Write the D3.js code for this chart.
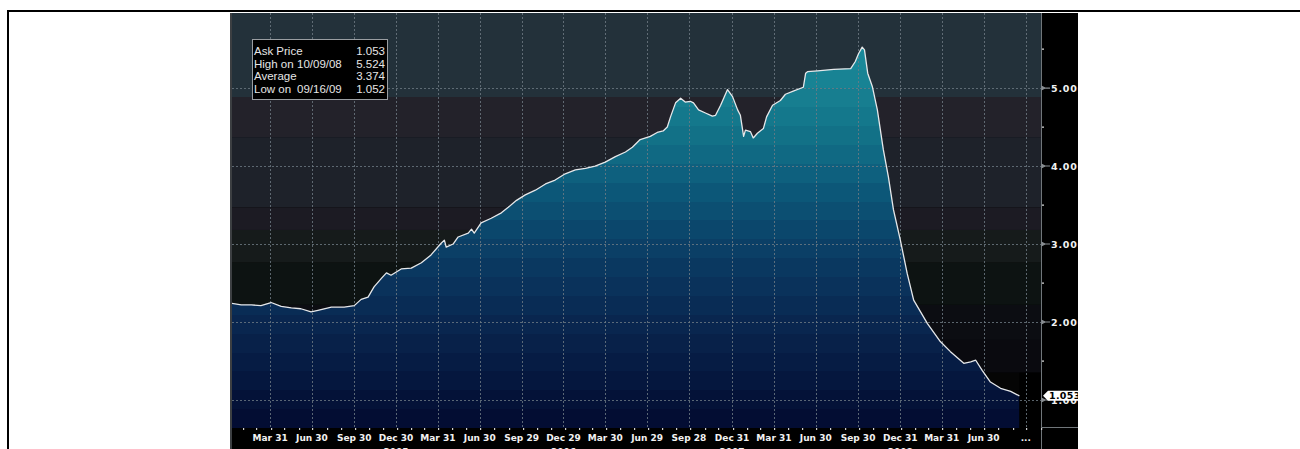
<!DOCTYPE html>
<html>
<head>
<meta charset="utf-8">
<script src="https://cdn.jsdelivr.net/npm/d3@7"></script>
<style>
  body { margin: 0; background: #fff; }
  svg { display: block; }
</style>
</head>
<body>
<div id="chart"></div>
<script>
const parse = d3.timeParse('%Y-%m-%d');

// Ask price
const dates = [
  '2005-01-05','2005-01-27','2005-02-18','2005-03-11','2005-04-02','2005-04-24','2005-05-16','2005-06-06',
  '2005-06-28','2005-07-13','2005-08-11','2005-09-08','2005-09-30','2005-10-15','2005-10-30','2005-11-12',
  '2005-11-28','2005-12-09','2005-12-19','2006-01-10','2006-02-01','2006-02-23','2006-03-16','2006-04-07',
  '2006-04-14','2006-04-18','2006-05-03','2006-05-14','2006-06-05','2006-06-12','2006-06-18','2006-07-03',
  '2006-07-25','2006-08-16','2006-08-31','2006-09-18','2006-10-07','2006-10-29','2006-11-20','2006-12-11',
  '2007-01-02','2007-01-24','2007-02-15','2007-03-08','2007-03-30','2007-04-21','2007-05-13','2007-05-28',
  '2007-06-14','2007-07-06','2007-07-21','2007-08-03','2007-08-12','2007-08-19','2007-08-30','2007-09-10',
  '2007-09-20','2007-10-01','2007-10-08','2007-10-19','2007-11-03','2007-11-18','2007-11-25','2007-12-06',
  '2007-12-21','2008-01-01','2008-01-12','2008-01-18','2008-01-25','2008-01-29','2008-02-09','2008-02-15',
  '2008-02-24','2008-03-08','2008-03-15','2008-03-28','2008-04-14','2008-04-25','2008-05-12','2008-06-03',
  '2008-06-08','2008-06-12','2008-07-04','2008-08-08','2008-09-14','2008-09-24','2008-10-01','2008-10-09',
  '2008-10-14','2008-10-21','2008-10-31','2008-11-11','2008-11-24','2008-12-05','2008-12-16','2008-12-31',
  '2009-01-15','2009-01-29','2009-02-28','2009-03-28','2009-04-19','2009-05-18','2009-06-02','2009-06-13',
  '2009-06-27','2009-07-15','2009-08-06','2009-08-28','2009-09-16'
];
const prices = [
  2.24, 2.22, 2.22, 2.21, 2.25, 2.20, 2.18, 2.17,
  2.13, 2.15, 2.19, 2.19, 2.21, 2.29, 2.32, 2.45,
  2.56, 2.63, 2.60, 2.68, 2.69, 2.76, 2.86, 3.01,
  3.05, 2.96, 3.00, 3.09, 3.14, 3.19, 3.14, 3.27,
  3.33, 3.40, 3.47, 3.56, 3.63, 3.69, 3.77, 3.82,
  3.90, 3.95, 3.97, 4.00, 4.05, 4.12, 4.18, 4.24,
  4.34, 4.38, 4.43, 4.45, 4.50, 4.63, 4.81, 4.87,
  4.82, 4.83, 4.81, 4.72, 4.68, 4.64, 4.65, 4.78,
  4.98, 4.89, 4.72, 4.65, 4.38, 4.46, 4.44, 4.36,
  4.42, 4.48, 4.63, 4.78, 4.84, 4.92, 4.96, 5.01,
  5.19, 5.21, 5.22, 5.24, 5.25, 5.34, 5.44, 5.524,
  5.49, 5.19, 5.02, 4.72, 4.21, 3.86, 3.44, 3.05,
  2.62, 2.28, 1.98, 1.75, 1.62, 1.47, 1.49, 1.51,
  1.38, 1.23, 1.15, 1.11, 1.053
];

const tickDates = [
  '2005-03-31','2005-06-30','2005-09-30','2005-12-30','2006-03-31','2006-06-30','2006-09-29','2006-12-29',
  '2007-03-30','2007-06-29','2007-09-28','2007-12-31','2008-03-31','2008-06-30','2008-09-30','2008-12-31',
  '2009-03-31','2009-06-30','2009-09-30'
];
const tickLabels = [
  'Mar 31','Jun 30','Sep 30','Dec 30','Mar 31','Jun 30','Sep 29','Dec 29',
  'Mar 30','Jun 29','Sep 28','Dec 31','Mar 31','Jun 30','Sep 30','Dec 31',
  'Mar 31','Jun 30','...'
];
const yearDates = ['2005-12-30','2006-12-29','2007-12-31','2008-12-31'];
const yearLabels = ['2005','2006','2007','2008'];

const yTicks = [1, 2, 3, 4, 5];
const yMinorTicks = [1.5, 2.5, 3.5, 4.5, 5.5];

const legendLabels = ['Ask Price', 'High on', 'Average', 'Low on'];
const legendDates = ['', '10/09/08', '', '09/16/09'];
const legendValues = ['1.053', '5.524', '3.374', '1.052'];
const lastPrice = 1.053;

// background bands behind the series, in price units (top to bottom)
const BG_BANDS = [
  { hi: 6.0,  lo: 4.885, color: '#23313a' },
  { hi: 4.885, lo: 4.37, color: '#23222a' },
  { hi: 4.37, lo: 3.47,  color: '#1e222a' },
  { hi: 3.47, lo: 3.18,  color: '#1c1b23' },
  { hi: 3.18, lo: 2.76,  color: '#161b1b' },
  { hi: 2.76, lo: 2.22,  color: '#0d1312' },
  { hi: 2.22, lo: 1.77,  color: '#0c0d12' },
  { hi: 1.77, lo: 1.35,  color: '#0a0a0f' },
  { hi: 1.35, lo: 0.6,   color: '#050505' },
];
// fill colour ramp for the area, by price level
const AREA_RAMP = [
  [5.96, '#1c95a5'], [4.9, '#177f90'], [4.3, '#116f86'], [3.6, '#0c5577'],
  [3.0, '#0b4167'], [2.4, '#0a305a'], [1.8, '#08224b'], [0.64, '#020a30']
];

const W = 1300, H = 449;
const plot = { left: 232, right: 1041, top: 13, bottom: 428 };
const chartBox = { left: 230, right: 1078, top: 13, bottom: 449 };

const data = dates.map((d, i) => ({ date: parse(d), value: prices[i] }));

const x = d3.scaleTime()
  .domain([parse('2005-01-07'), parse('2009-11-02')])
  .range([plot.left, plot.right]);
const y = d3.scaleLinear().domain([0.641, 5.962]).range([plot.bottom, plot.top]);

const svg = d3.select('#chart').append('svg')
  .attr('width', W).attr('height', H)
  .style('font-family', 'Liberation Sans, Arial, sans-serif');

// outer frame
svg.append('rect').attr('x', 7).attr('y', 10).attr('width', W - 7).attr('height', 2).attr('fill', '#000');
svg.append('rect').attr('x', 7).attr('y', 10).attr('width', 2).attr('height', H - 10).attr('fill', '#000');

const defs = svg.append('defs');
defs.append('clipPath').attr('id', 'chartClip').append('rect')
  .attr('x', chartBox.left).attr('y', chartBox.top)
  .attr('width', chartBox.right - chartBox.left).attr('height', chartBox.bottom - chartBox.top);
defs.append('clipPath').attr('id', 'plotClip').append('rect')
  .attr('x', plot.left).attr('y', plot.top)
  .attr('width', plot.right - plot.left).attr('height', plot.bottom - plot.top);

// banded gradient for the area
const ramp = d3.scaleLinear()
  .domain(AREA_RAMP.map(d => d[0]))
  .range(AREA_RAMP.map(d => d[1]))
  .interpolate(d3.interpolateRgb);
const grad = defs.append('linearGradient').attr('id', 'areaFill')
  .attr('gradientUnits', 'userSpaceOnUse')
  .attr('x1', 0).attr('x2', 0).attr('y1', plot.top).attr('y2', plot.bottom);
const nBands = 22;
for (let i = 0; i < nBands; i++) {
  const v = y.invert(plot.top + (i + 0.5) * (plot.bottom - plot.top) / nBands);
  const c = ramp(v);
  grad.append('stop').attr('offset', i / nBands).attr('stop-color', c);
  grad.append('stop').attr('offset', (i + 1) / nBands).attr('stop-color', c);
}

const root = svg.append('g').attr('clip-path', 'url(#chartClip)');

// black chart canvas (axis areas)
root.append('rect')
  .attr('x', chartBox.left).attr('y', chartBox.top)
  .attr('width', chartBox.right - chartBox.left).attr('height', chartBox.bottom - chartBox.top)
  .attr('fill', '#000');

const pg = root.append('g').attr('clip-path', 'url(#plotClip)');

// background bands
pg.selectAll('rect.band').data(BG_BANDS).join('rect')
  .attr('class', 'band')
  .attr('x', plot.left).attr('width', plot.right - plot.left)
  .attr('y', d => y(d.hi)).attr('height', d => y(d.lo) - y(d.hi))
  .attr('fill', d => d.color);

// area + line
const area = d3.area().x(d => x(d.date)).y0(plot.bottom).y1(d => y(d.value));
const line = d3.line().x(d => x(d.date)).y(d => y(d.value));

pg.append('path').datum(data).attr('d', area).attr('fill', 'url(#areaFill)');

// black strip after the last price
const lastDate = data[data.length - 1].date;
pg.append('rect')
  .attr('x', x(lastDate)).attr('y', y(1.35))
  .attr('width', plot.right - x(lastDate)).attr('height', plot.bottom - y(1.35))
  .attr('fill', '#000');

// gridlines
pg.selectAll('line.hgrid').data(yTicks).join('line')
  .attr('class', 'hgrid')
  .attr('x1', plot.left).attr('x2', plot.right)
  .attr('y1', d => y(d) + 0.5).attr('y2', d => y(d) + 0.5)
  .attr('stroke', '#6f7c84').attr('stroke-opacity', 0.8)
  .attr('stroke-dasharray', '2,2');
pg.selectAll('line.vgrid').data(tickDates).join('line')
  .attr('class', 'vgrid')
  .attr('x1', d => Math.round(x(parse(d))) + 0.5).attr('x2', d => Math.round(x(parse(d))) + 0.5)
  .attr('y1', plot.top).attr('y2', plot.bottom)
  .attr('stroke', '#6f7c84').attr('stroke-opacity', 0.8)
  .attr('stroke-dasharray', '2,2');

pg.append('path').datum(data).attr('d', line)
  .attr('fill', 'none').attr('stroke', '#e6e8ea').attr('stroke-width', 1.3)
  .attr('stroke-linejoin', 'round');

// plot frame
root.append('line')
  .attr('x1', 231).attr('x2', 231).attr('y1', chartBox.top).attr('y2', chartBox.bottom)
  .attr('stroke', '#3c3f42').attr('stroke-width', 2);
root.append('line')
  .attr('x1', plot.right + 0.5).attr('x2', plot.right + 0.5).attr('y1', chartBox.top).attr('y2', chartBox.bottom)
  .attr('stroke', '#70767a').attr('stroke-width', 1);
root.append('line')
  .attr('x1', plot.right).attr('x2', chartBox.right).attr('y1', plot.bottom - 0.5).attr('y2', plot.bottom - 0.5)
  .attr('stroke', '#70767a').attr('stroke-width', 1);

// x axis: monthly dots, quarter labels, year labels
const months = d3.timeMonth.range(x.domain()[0], x.domain()[1]);
root.selectAll('rect.mtick').data(months).join('rect')
  .attr('class', 'mtick')
  .attr('x', d => Math.round(x(d))).attr('y', plot.bottom)
  .attr('width', 1.2).attr('height', 2)
  .attr('fill', '#d0d0d0');

root.selectAll('text.xlab').data(tickDates).join('text')
  .attr('class', 'xlab')
  .attr('x', d => x(parse(d))).attr('y', 441)
  .attr('text-anchor', 'middle')
  .attr('font-family', 'DejaVu Sans, sans-serif')
  .attr('font-size', 9).attr('font-weight', 'bold')
  .attr('fill', '#f2f2f2')
  .text((d, i) => tickLabels[i]);

root.selectAll('text.year').data(yearDates).join('text')
  .attr('class', 'year')
  .attr('x', d => x(parse(d))).attr('y', 455)
  .attr('text-anchor', 'middle')
  .attr('font-family', 'DejaVu Sans, sans-serif')
  .attr('font-size', 9).attr('font-weight', 'bold')
  .attr('fill', '#f2f2f2')
  .text((d, i) => yearLabels[i]);

// y axis (right side)
root.selectAll('rect.ymin').data(yMinorTicks).join('rect')
  .attr('class', 'ymin')
  .attr('x', plot.right + 1).attr('y', d => y(d) - 0.5)
  .attr('width', 2).attr('height', 1.2)
  .attr('fill', '#e0e0e0');
root.selectAll('path.ytick').data(yTicks).join('path')
  .attr('class', 'ytick')
  .attr('d', d => `M${plot.right + 1},${y(d) - 1.5} L${plot.right + 4},${y(d)} L${plot.right + 1},${y(d) + 1.5}Z M${plot.right + 3},${y(d)} H${plot.right + 9}`)
  .attr('fill', '#8a8f93').attr('stroke', '#8a8f93').attr('stroke-width', 1.2);
root.selectAll('text.ylab').data(yTicks).join('text')
  .attr('class', 'ylab')
  .attr('x', plot.right + 10).attr('y', d => y(d) + 3.5)
  .attr('font-family', 'DejaVu Sans, sans-serif')
  .attr('font-size', 9.5).attr('font-weight', 'bold')
  .attr('letter-spacing', 0.8)
  .attr('fill', '#f2f2f2')
  .text(d => d3.format('.3f')(d));

// last price marker
const ly = y(lastPrice);
root.append('path')
  .attr('d', `M${plot.right + 2},${ly} L${plot.right + 7},${ly - 5} H${chartBox.right + 5} V${ly + 5} H${plot.right + 7} Z`)
  .attr('fill', '#fff');
root.append('text')
  .attr('x', plot.right + 8).attr('y', ly + 3.5)
  .attr('font-family', 'DejaVu Sans, sans-serif')
  .attr('font-size', 9.5).attr('font-weight', 'bold')
  .attr('letter-spacing', 0.3)
  .attr('fill', '#000')
  .text(d3.format('.3f')(lastPrice));

// legend box
const lg = svg.append('g').attr('transform', 'translate(252,39)');
lg.append('rect').attr('x', 0.5).attr('y', 0.5).attr('width', 135).attr('height', 60)
  .attr('fill', '#000').attr('stroke', '#9a9ea2').attr('stroke-width', 1);
legendLabels.forEach((lab, i) => {
  const by = 16 + i * 12.7;
  lg.append('text').attr('x', 2).attr('y', by)
    .attr('font-size', 11.5).attr('fill', '#e6e6e6').text(lab);
  if (legendDates[i]) {
    lg.append('text').attr('x', 45).attr('y', by)
      .attr('font-size', 11.5).attr('fill', '#e6e6e6').text(legendDates[i]);
  }
  lg.append('text').attr('x', 133).attr('y', by).attr('text-anchor', 'end')
    .attr('font-size', 11.5).attr('fill', '#e6e6e6').text(legendValues[i]);
});
</script>
</body>
</html>
